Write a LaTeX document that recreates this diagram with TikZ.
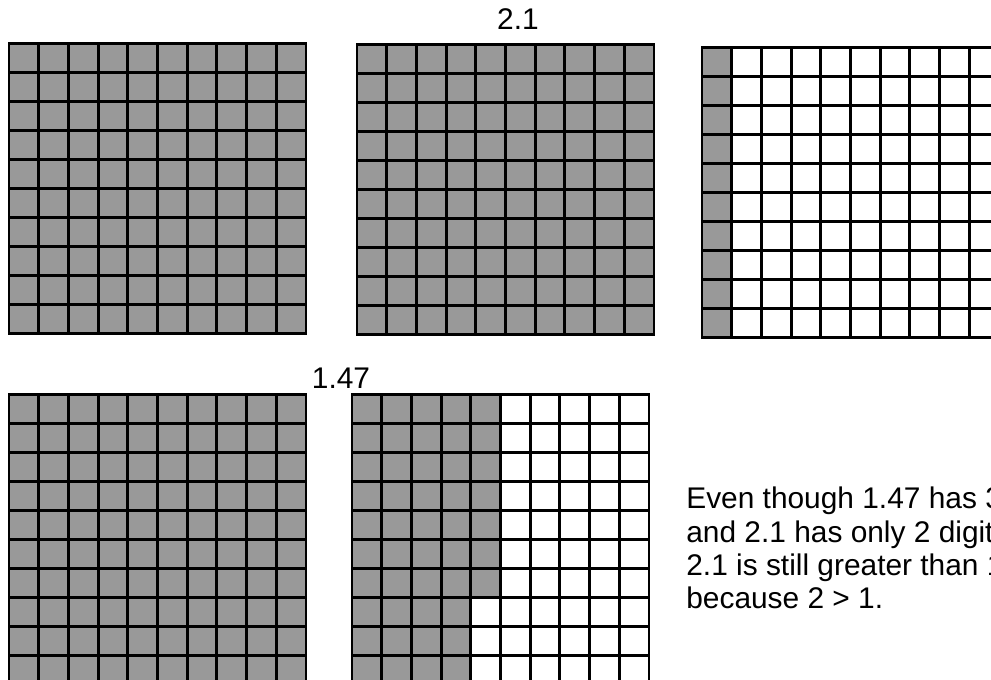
\documentclass[tikz,border=0pt]{standalone}
\usepackage{fontspec}
\setmainfont{Liberation Sans}
\usepackage{xcolor}
\definecolor{gridGray}{gray}{0.6}
\usepackage{tikz}

\begin{document}
\begin{tikzpicture}[line cap=rect, cellline/.style={line width=1.7pt},
    every node/.style={font=\fontsize{17}{18.8}\selectfont, inner sep=0pt}]
  \useasboundingbox (0,0) rectangle (19.82,13.6);
  % top row: 2.1
  \begin{scope}[shift={(0.18,6.92)}, x=0.594cm, y=0.58cm]
    \fill[gridGray] (0,0) rectangle (10,10);
    \foreach \i in {0,...,10} {
      \draw[cellline] (\i,0) -- (\i,10);
      \draw[cellline] (0,\i) -- (10,\i);
    }
  \end{scope}
  \begin{scope}[shift={(7.14,6.90)}, x=0.594cm, y=0.58cm]
    \fill[gridGray] (0,0) rectangle (10,10);
    \foreach \i in {0,...,10} {
      \draw[cellline] (\i,0) -- (\i,10);
      \draw[cellline] (0,\i) -- (10,\i);
    }
  \end{scope}
  \begin{scope}[shift={(14.04,6.84)}, x=0.594cm, y=0.58cm]
    \fill[gridGray] (0,0) rectangle (1,10);
    \foreach \i in {0,...,10} {
      \draw[cellline] (\i,0) -- (\i,10);
      \draw[cellline] (0,\i) -- (10,\i);
    }
  \end{scope}
  \node (lbltwo) [anchor=base] at (10.36,13.0) {2.1};
  % bottom row: 1.47
  \begin{scope}[shift={(0.18,-0.10)}, x=0.594cm, y=0.58cm]
    \fill[gridGray] (0,0) rectangle (10,10);
    \foreach \i in {0,...,10} {
      \draw[cellline] (\i,0) -- (\i,10);
      \draw[cellline] (0,\i) -- (10,\i);
    }
  \end{scope}
  \begin{scope}[shift={(7.04,-0.10)}, x=0.594cm, y=0.58cm]
    \fill[gridGray] (0,0) rectangle (4,10);
    \fill[gridGray] (4,3) rectangle (5,10);
    \foreach \i in {0,...,10} {
      \draw[cellline] (\i,0) -- (\i,10);
      \draw[cellline] (0,\i) -- (10,\i);
    }
  \end{scope}
  \node (lblone) [anchor=base] at (6.82,5.82) {1.47};
  % comparison note
  \node (note) [anchor=north west, align=left] at (13.72,3.86)
    {Even though 1.47 has 3 digits\\and 2.1 has only 2 digits,\\2.1 is still greater than 1.47\\because 2 > 1.};
\end{tikzpicture}
\end{document}
